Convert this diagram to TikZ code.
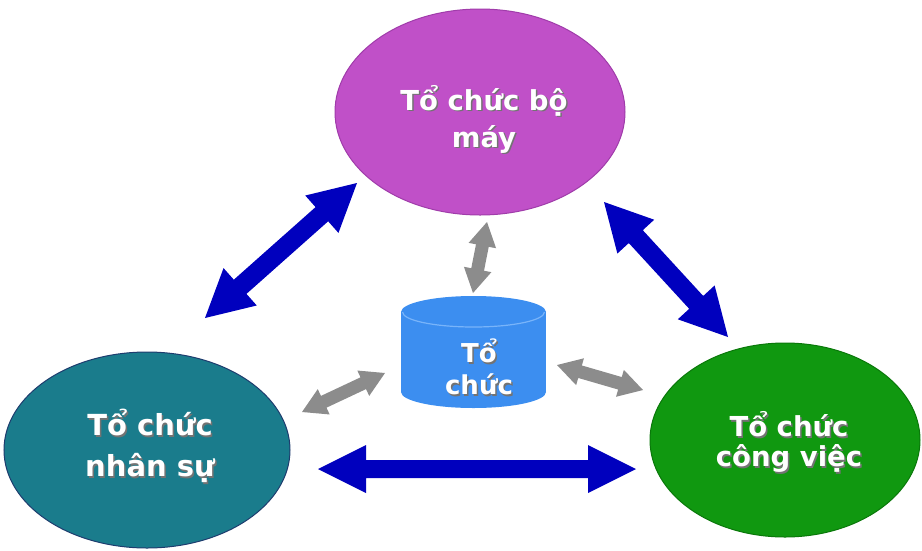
\documentclass[tikz,border=0pt]{standalone}
\usepackage{fontspec}
\setmainfont{DejaVu Sans}
\usetikzlibrary{calc,shapes.geometric}

\definecolor{bubblepurple}{RGB}{192,80,200}
\definecolor{edgepurple}{RGB}{160,60,170}
\definecolor{bubbleteal}{RGB}{26,124,140}
\definecolor{edgeteal}{RGB}{30,60,110}
\definecolor{bubblegreen}{RGB}{16,152,16}
\definecolor{edgegreen}{RGB}{10,120,10}
\definecolor{drumblue}{RGB}{60,142,240}
\definecolor{drumrim}{RGB}{120,180,250}
\definecolor{arrowblue}{RGB}{0,0,190}
\definecolor{arrowgray}{RGB}{140,140,140}

% white text with a soft dark drop shadow
\newcommand\shd[1]{\leavevmode\rlap{\kern1.5pt\raisebox{-1.5pt}{\textcolor{black!55}{#1}}}#1}

% filled two-headed block arrow between two named points:
% #1 from, #2 to, #3 head length, #4 head half width, #5 shaft half width, #6 style
\newcommand\twoway[6]{%
  \coordinate (#1#2a) at ($(#1)!#3!(#2)$);
  \coordinate (#1#2b) at ($(#2)!#3!(#1)$);
  \fill[#6] (#1) -- ($(#1#2a)!#4!90:(#2)$) -- ($(#1#2a)!#5!90:(#2)$)
    -- ($(#1#2b)!#5!-90:(#1)$) -- ($(#1#2b)!#4!-90:(#1)$) -- (#2)
    -- ($(#1#2b)!#4!90:(#1)$) -- ($(#1#2b)!#5!90:(#1)$)
    -- ($(#1#2a)!#5!-90:(#2)$) -- ($(#1#2a)!#4!-90:(#2)$) -- cycle;}

\tikzset{
  bubble/.style={ellipse, inner sep=0pt, line width=1pt},
  caption/.style={text=white, font=\bfseries, align=center, inner sep=0pt},
  bigarrow/.style={fill=arrowblue},
  smallarrow/.style={fill=arrowgray},
}

\begin{document}
\begin{tikzpicture}[x=1pt,y=-1pt]
\useasboundingbox (0,0) rectangle (922,550);

% the three bubbles
\node[bubble, fill=bubblepurple, draw=edgepurple, minimum width=290pt, minimum height=206pt] (machine) at (480,112) {};
\node[bubble, fill=bubbleteal, draw=edgeteal, minimum width=286pt, minimum height=196pt] (staff) at (147,450) {};
\node[bubble, fill=bubblegreen, draw=edgegreen, minimum width=270pt, minimum height=194pt] (work) at (785,440) {};

% central drum
\coordinate (drum) at (473.5,352);
\fill[drumblue] ($(drum)+(0,40)$) ellipse[x radius=72.5pt, y radius=16pt];
\fill[drumblue] ($(drum)+(-72.5,-40)$) rectangle ($(drum)+(72.5,40)$);
\fill[drumblue] ($(drum)+(0,-40)$) ellipse[x radius=72.5pt, y radius=16pt];
\begin{scope}
  \clip ($(drum)+(-74,-40)$) rectangle ($(drum)+(74,-22)$);
  \draw[drumrim, line width=1.2pt] ($(drum)+(0,-40)$) ellipse[x radius=71pt, y radius=15pt];
\end{scope}

% captions
\node[caption, font=\bfseries\fontsize{27.5}{37}\selectfont] (tmachine) at (484,120) {\shd{Tổ chức bộ}\\\shd{máy}};
\node[caption, font=\bfseries\fontsize{29}{41}\selectfont] (tstaff) at (150,447) {\shd{Tổ chức}\\\shd{nhân sự}};
\node[caption, font=\bfseries\fontsize{27.5}{30}\selectfont] (twork) at (789,443) {\shd{Tổ chức}\\\shd{công việc}};
\node[caption, font=\bfseries\fontsize{26}{32}\selectfont] (tdrum) at (479,368) {\shd{Tổ}\\\shd{chức}};

% arrow end points
\coordinate (ms) at (357,183);  \coordinate (sm) at (205,318);
\coordinate (mw) at (604,202);  \coordinate (wm) at (728,337);
\coordinate (sw) at (318,469);  \coordinate (ws) at (636,469);
\coordinate (dm) at (473,293);  \coordinate (md) at (487,222);
\coordinate (ds) at (385,373);  \coordinate (sd) at (302,412);
\coordinate (dw) at (557,365);  \coordinate (wd) at (643,390);

% blue links between the bubbles
\twoway{sm}{ms}{47pt}{25pt}{9.5pt}{bigarrow}
\twoway{mw}{wm}{47pt}{25pt}{9.5pt}{bigarrow}
\twoway{sw}{ws}{48pt}{24pt}{9pt}{bigarrow}

% grey links to the drum
\twoway{dm}{md}{24pt}{14pt}{6.5pt}{smallarrow}
\twoway{sd}{ds}{24pt}{14pt}{6.5pt}{smallarrow}
\twoway{dw}{wd}{24pt}{14pt}{6.5pt}{smallarrow}
\end{tikzpicture}
\end{document}
